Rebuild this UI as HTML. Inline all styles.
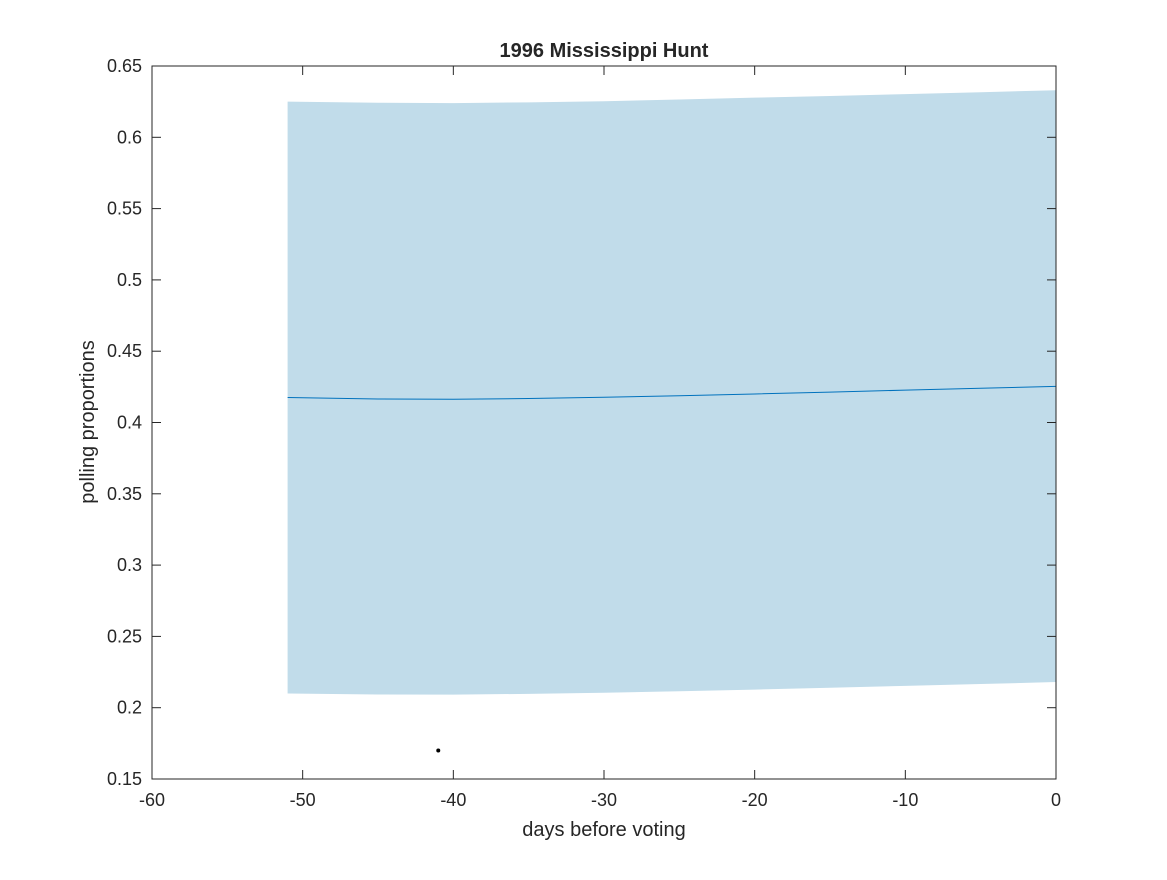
<!DOCTYPE html>
<html><head><meta charset="utf-8"><style>
body{margin:0;background:#fff;}
svg text{font-family:"Liberation Sans",sans-serif;fill:#262626;}
</style></head><body>
<svg id="chart" width="1167" height="875" xmlns="http://www.w3.org/2000/svg">
<g id="band-layer"></g>
<g id="axes"></g>
<text x="604" y="57" text-anchor="middle" font-size="20" font-weight="bold">1996 Mississippi Hunt</text>
<text x="604" y="836" text-anchor="middle" font-size="20">days before voting</text>
<text transform="translate(94,422) rotate(-90)" text-anchor="middle" font-size="20">polling proportions</text>
</svg>
<script>
const days = [-51,-45,-40,-35,-30,-25,-20,-15,-10,-5,0];
const upper = [0.625,0.6242,0.6240,0.6245,0.6253,0.6265,0.6278,0.629,0.6303,0.6316,0.633];
const lower = [0.210,0.2093,0.2092,0.2097,0.2105,0.2115,0.2127,0.214,0.2153,0.2166,0.218];
const mean = [0.4175,0.4165,0.4163,0.4168,0.4177,0.4188,0.420,0.4213,0.4227,0.424,0.4253];
const pointsX = [-41];
const pointsY = [0.17];
const xTicks = [-60,-50,-40,-30,-20,-10,0];
const yTicks = [0.15,0.2,0.25,0.3,0.35,0.4,0.45,0.5,0.55,0.6,0.65];
const L=152,R=1056,T=66,B=779;
const xs=v=>L+(v+60)/60*(R-L);
const ys=v=>B-(v-0.15)/0.5*(B-T);
const NS='http://www.w3.org/2000/svg';
function mk(tag,parent){const e=document.createElementNS(NS,tag);parent.appendChild(e);return e;}
const bl=document.getElementById('band-layer');
let d='M'+days.map((t,i)=>xs(t)+','+ys(upper[i])).join('L');
for(let i=days.length-1;i>=0;i--)d+='L'+xs(days[i])+','+ys(lower[i]);
const band=mk('path',bl);band.setAttribute('d',d+'Z');band.setAttribute('fill','#c1dcea');


const ln=mk('polyline',bl);ln.setAttribute('points',days.map((t,i)=>xs(t)+','+ys(mean[i])).join(' '));
ln.setAttribute('fill','none');ln.setAttribute('stroke','#0072bd');ln.setAttribute('stroke-width','1');


pointsX.forEach((px,i)=>{const c=mk('circle',bl);c.setAttribute('cx',xs(px));c.setAttribute('cy',ys(pointsY[i]));c.setAttribute('r','2');c.setAttribute('fill','#000');

});
const ax=document.getElementById('axes');
const fr=mk('rect',ax);fr.setAttribute('x',L);fr.setAttribute('y',T);fr.setAttribute('width',R-L);fr.setAttribute('height',B-T);
fr.setAttribute('fill','none');fr.setAttribute('stroke','#262626');fr.setAttribute('stroke-width','1');


xTicks.forEach(t=>{const x=xs(t);
 [[B,B-9],[T,T+9]].forEach(p=>{const l=mk('line',ax);l.setAttribute('x1',x);l.setAttribute('x2',x);l.setAttribute('y1',p[0]);l.setAttribute('y2',p[1]);l.setAttribute('stroke','#262626');
 
 });
 const tx=mk('text',ax);tx.setAttribute('x',x);tx.setAttribute('y',B+27);tx.setAttribute('text-anchor','middle');tx.setAttribute('font-size','18');tx.textContent=t;
 
 });
yTicks.forEach(t=>{const y=ys(t);
 [[L,L+9],[R,R-9]].forEach(p=>{const l=mk('line',ax);l.setAttribute('y1',y);l.setAttribute('y2',y);l.setAttribute('x1',p[0]);l.setAttribute('x2',p[1]);l.setAttribute('stroke','#262626');
 
 });
 const tx=mk('text',ax);tx.setAttribute('x',L-10);tx.setAttribute('y',y+6);tx.setAttribute('text-anchor','end');tx.setAttribute('font-size','18');tx.textContent=String(t);
 
 });
</script>
</body></html>
